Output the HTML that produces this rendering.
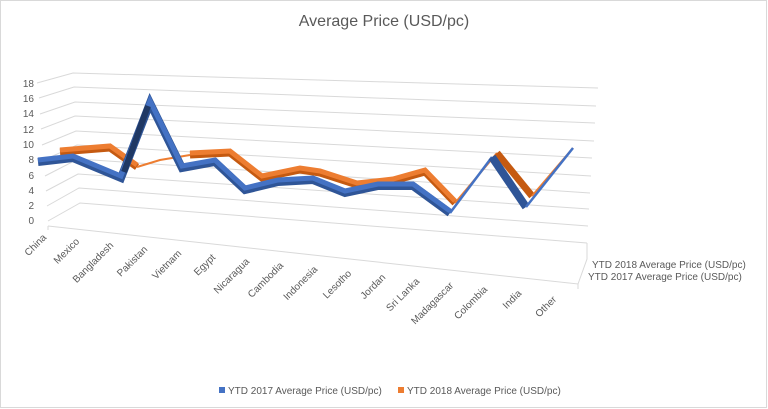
<!DOCTYPE html>
<html><head><meta charset="utf-8"><style>
html,body{margin:0;padding:0;background:#fff;}
svg{display:block;font-family:"Liberation Sans",sans-serif;}
</style></head><body>
<svg width="768" height="409" viewBox="0 0 768 409" xmlns="http://www.w3.org/2000/svg">
<rect x="0.5" y="0.5" width="766" height="407" fill="#fff" stroke="#d9d9d9"/>
<text x="384" y="26" text-anchor="middle" font-size="16" fill="#595959">Average Price (USD/pc)</text>
<g stroke="#d9d9d9" stroke-width="1" fill="none">
<polyline points="48,221 80,203 587,243"/>
<polyline points="47,206 79,188 588,226"/>
<polyline points="46,191 78,174 589,209"/>
<polyline points="45,176 78,159 590,193"/>
<polyline points="44,160 77,145 591,176"/>
<polyline points="42,145 76,131 592,158"/>
<polyline points="41,129 75,116 594,141"/>
<polyline points="40,114 75,102 595,123"/>
<polyline points="39,98 74,87 596,106"/>
<polyline points="37,83 73,73 598,88"/>
<polyline points="48,226 578,284 587,259 587,243"/>
</g>
<g stroke="#d9d9d9">
<line x1="48" y1="226" x2="48" y2="230"/><line x1="578" y1="284" x2="578" y2="289"/>
</g>
<g font-size="10" fill="#595959" text-anchor="end">
<text x="34" y="87">18</text><text x="34" y="102">16</text><text x="34" y="117">14</text><text x="34" y="133">12</text><text x="34" y="148">10</text><text x="34" y="163">8</text><text x="34" y="179">6</text><text x="34" y="194">4</text><text x="34" y="209">2</text><text x="34" y="224">0</text>
</g>
<!-- orange series -->
<polyline fill="none" stroke="#c55a11" stroke-width="7" points="60,152 110,148 137,167"/>
<polyline fill="none" stroke="#ed7d31" stroke-width="5" points="60,150 110,146 137,165"/>
<polyline fill="none" stroke="#ed7d31" stroke-width="2" points="137,167 160,160 190,155"/>
<polyline fill="none" stroke="#c55a11" stroke-width="7" points="190,155 230,153 262,178 300,170 320,173 357,185 393,181 425,172 455,203"/>
<polyline fill="none" stroke="#ed7d31" stroke-width="5" points="190,153 230,151 262,176 300,168 320,171 357,183 393,179 425,170 455,201"/>
<polyline fill="none" stroke="#ed7d31" stroke-width="2" points="455,203 497,153"/>
<polyline fill="none" stroke="#c55a11" stroke-width="7" points="497,153 532,196"/>
<polyline fill="none" stroke="#ed7d31" stroke-width="2" points="532,196 573,148"/>
<!-- blue series -->
<polyline fill="none" stroke="#2f5597" stroke-width="8" points="38,162 73,158 121,178 150,103 182,168 215,162 245,190 278,182 313,180 345,193 378,186 413,186 450,213"/>
<polyline fill="none" stroke="#4472c4" stroke-width="5" points="38,160 73,156 121,176 150,101 182,166 215,160 245,188 278,180 313,178 345,191 378,184 413,184 450,211"/>
<polyline fill="none" stroke="#1f3864" stroke-width="6" points="124,172 148,106"/>
<polyline fill="none" stroke="#4472c4" stroke-width="2.5" points="450,213 492,157"/>
<polyline fill="none" stroke="#2f5597" stroke-width="8" points="492,157 526,207"/>
<polyline fill="none" stroke="#4472c4" stroke-width="2.5" points="526,207 573,148"/>
<g font-size="10" fill="#595959" text-anchor="end">
<text transform="translate(47,238) rotate(-45)">China</text>
<text transform="translate(80,242) rotate(-45)">Mexico</text>
<text transform="translate(114,246) rotate(-45)">Bangladesh</text>
<text transform="translate(148,250) rotate(-45)">Pakistan</text>
<text transform="translate(182,254) rotate(-45)">Vietnam</text>
<text transform="translate(216,258) rotate(-45)">Egypt</text>
<text transform="translate(250,262) rotate(-45)">Nicaragua</text>
<text transform="translate(284,266) rotate(-45)">Cambodia</text>
<text transform="translate(318,270) rotate(-45)">Indonesia</text>
<text transform="translate(352,274) rotate(-45)">Lesotho</text>
<text transform="translate(386,278) rotate(-45)">Jordan</text>
<text transform="translate(420,282) rotate(-45)">Sri Lanka</text>
<text transform="translate(454,286) rotate(-45)">Madagascar</text>
<text transform="translate(488,290) rotate(-45)">Colombia</text>
<text transform="translate(522,294) rotate(-45)">India</text>
<text transform="translate(557,300) rotate(-45)">Other</text>
</g>
<g font-size="10" fill="#595959">
<text x="592" y="268">YTD 2018 Average Price (USD/pc)</text>
<text x="588" y="280">YTD 2017 Average Price (USD/pc)</text>
</g>
<rect x="219" y="387" width="6" height="6" fill="#4472c4"/>
<text x="228" y="394" font-size="10" fill="#595959">YTD 2017 Average Price (USD/pc)</text>
<rect x="398" y="387" width="6" height="6" fill="#ed7d31"/>
<text x="407" y="394" font-size="10" fill="#595959">YTD 2018 Average Price (USD/pc)</text>
</svg>
</body></html>
